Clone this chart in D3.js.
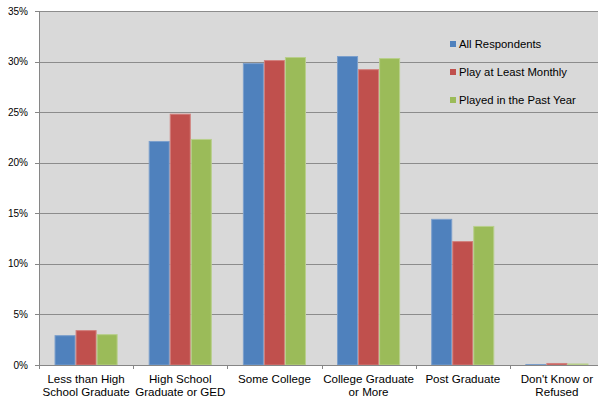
<!DOCTYPE html>
<html><head><meta charset="utf-8">
<script src="https://cdn.jsdelivr.net/npm/d3@7"></script>
<style>body{margin:0;background:#fff}svg{display:block;font-family:"Liberation Sans",Arial,sans-serif}</style>
</head><body><svg id="c" width="598" height="403"></svg>
<script>
const categories = [["Less than High","School Graduate"],["High School","Graduate or GED"],["Some College"],["College Graduate","or More"],["Post Graduate"],["Don't Know or","Refused"]];
const seriesNames = ["All Respondents","Play at Least Monthly","Played in the Past Year"];
const allRespondents = [2.9, 22.1, 29.8, 30.5, 14.4, 0.05];
const playMonthly = [3.4, 24.8, 30.1, 29.2, 12.2, 0.15];
const playedPastYear = [3.0, 22.3, 30.4, 30.3, 13.7, 0.1];
const yTicks = [0,5,10,15,20,25,30,35];
const colors = ["#4f81bd","#c0504d","#9bbb59"];
const strokes = ["#7b9fcc","#d27f7c","#b8cf8b"];

const series = [allRespondents, playMonthly, playedPastYear];
const svg = d3.select("#c");
const L = 39, R = 604, T = 11, B = 365;
const x = d3.scaleBand().domain(d3.range(categories.length)).range([L, R]).paddingInner(0.33).paddingOuter(0.165);
const xs = d3.scaleBand().domain(d3.range(3)).range([0, x.bandwidth()]);
const y = d3.scaleLinear().domain([0,35]).range([B, T]);

svg.append("rect").attr("x", L).attr("y", T).attr("width", R - L).attr("height", B - T).attr("fill", "#d9d9d9");

svg.append("g").selectAll("line").data(yTicks.filter(d => d > 0)).join("line")
  .attr("x1", L).attr("x2", R).attr("y1", d => Math.round(y(d)) + 0.5).attr("y2", d => Math.round(y(d)) + 0.5)
  .attr("stroke", "#8c8c8c").attr("stroke-width", 1);

const g = svg.append("g");
series.forEach((vals, si) => {
  g.selectAll(".s" + si).data(vals).join("rect")
    .attr("x", (d, i) => x(i) + xs(si) + 0.5)
    .attr("width", xs.bandwidth() - 1)
    .attr("y", d => y(d))
    .attr("height", d => B - y(d))
    .attr("fill", colors[si]).attr("stroke", strokes[si]).attr("stroke-width", 1);
});

// axes
svg.append("line").attr("x1", L + 0.5).attr("x2", L + 0.5).attr("y1", T).attr("y2", B + 4).attr("stroke", "#868686");
svg.append("line").attr("x1", L).attr("x2", R).attr("y1", B + 0.5).attr("y2", B + 0.5).attr("stroke", "#868686");
svg.append("g").selectAll("line").data(yTicks).join("line")
  .attr("x1", L - 4).attr("x2", L).attr("y1", d => Math.round(y(d)) + 0.5).attr("y2", d => Math.round(y(d)) + 0.5).attr("stroke", "#868686");
const step = x.step();
svg.append("g").selectAll("line").data(d3.range(categories.length)).join("line")
  .attr("x1", (d) => Math.round(L + d * step) + 0.5).attr("x2", d => Math.round(L + d * step) + 0.5)
  .attr("y1", B).attr("y2", B + 4).attr("stroke", "#868686");

svg.append("g").selectAll("text").data(yTicks).join("text")
  .attr("x", 28).attr("y", d => y(d) + 3.5).attr("text-anchor", "end")
  .attr("font-size", 10).attr("fill", "#000").text(d => d + "%");

const xl = svg.append("g").selectAll("text").data(categories).join("text")
  .attr("text-anchor", "middle").attr("font-size", 11.6).attr("fill", "#000")
  .attr("transform", (d, i) => `translate(${x(i) + x.bandwidth() / 2},0)`);
xl.selectAll("tspan").data(d => d).join("tspan")
  .attr("x", 0).attr("y", (d, j) => 383 + j * 13).text(d => d);

const lg = svg.append("g").selectAll("g").data(seriesNames).join("g")
  .attr("transform", (d, i) => `translate(450,${44 + i * 28})`);
lg.append("rect").attr("x", 0).attr("y", -3).attr("width", 6).attr("height", 6).attr("fill", (d, i) => colors[i]);
lg.append("text").attr("x", 9).attr("y", 4).attr("font-size", 11.3).attr("fill", "#000").text(d => d);
</script></body></html>
